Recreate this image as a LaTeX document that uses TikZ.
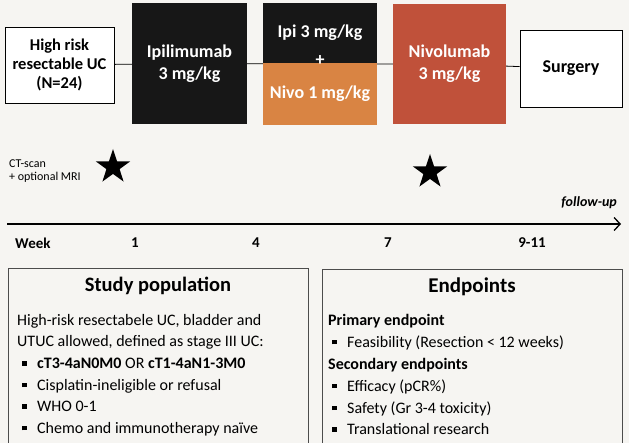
\documentclass[tikz,border=0pt]{standalone}
\usepackage{fontspec}
\setmainfont{Carlito}
\usetikzlibrary{shapes.geometric,arrows.meta}
\definecolor{paper}{HTML}{F6F5F2}
\definecolor{ipiblack}{HTML}{171717}
\definecolor{nivoorange}{HTML}{D98443}
\definecolor{nivored}{HTML}{C0513A}
\newcommand{\bul}{\makebox[15pt][l]{\raisebox{3pt}{\rule{4.5pt}{4.5pt}}}}
\begin{document}
\begin{tikzpicture}[x=1pt,y=-1pt,
 arm/.style={rectangle,inner sep=0pt,align=center,font=\fontsize{18}{22}\selectfont\bfseries},
 dark/.style={arm,fill=ipiblack,text=white},
 light/.style={arm,fill=white,draw=black,line width=0.8pt,text=black},
 panel/.style={rectangle,draw=black!70,line width=0.6pt,fill=paper,anchor=north west,minimum width=#1,minimum height=200pt},
 wk/.style={font=\fontsize{15}{15}\selectfont\bfseries},
 scan/.style={star,star points=5,star point ratio=2.6,fill=black,inner sep=0pt,minimum size=36pt}]
\useasboundingbox (0,0) rectangle (629,443);
\clip (0,0) rectangle (629,443);
\fill[paper] (0,0) rectangle (629,443);
% treatment arms
\node[light,minimum width=109pt,minimum height=76pt,font=\fontsize{16.5}{19}\selectfont\bfseries] (hr) at (59.5,65) {High risk\\resectable UC\\(N=24)};
\node[dark,minimum width=115pt,minimum height=121pt] (ipi) at (189.5,63.5) {Ipilimumab\\3 mg/kg};
\node[dark,minimum width=114pt,minimum height=60pt] (combi1) at (320,33) {Ipi 3 mg/kg};
\node[arm,fill=nivoorange,text=white,minimum width=114pt,minimum height=62pt] (combi2) at (320,94) {Nivo 1 mg/kg};
\node[inner sep=0pt,minimum width=114pt,minimum height=122pt] (combi) at (320,64) {};
\node[text=white,font=\fontsize{18}{18}\selectfont\bfseries] (plus) at (320,61) {+};
\node[arm,fill=nivored,text=white,minimum width=113pt,minimum height=120pt] (nivo) at (449.5,64) {Nivolumab\\3 mg/kg};
\node[light,minimum width=102pt,minimum height=77pt] (surg) at (571,68.5) {Surgery};
\draw[line width=0.8pt] (hr) -- (ipi) (ipi) -- (combi) (combi) -- (nivo) (nivo) -- (surg);
% imaging
\node[align=left,anchor=west,inner sep=0pt,font=\fontsize{12}{12.5}\selectfont] (ct) at (9,171) {CT-scan\\+ optional MRI};
\node[scan] (s1) at (113,167) {};
\node[scan] (s2) at (430,172) {};
% timeline
\coordinate (t0) at (7,224);
\coordinate (t1) at (621,224);
\draw[line width=1.3pt,-{Straight Barb[length=6pt,width=13pt,line width=1.3pt]}] (t0) -- (t1);
\node[anchor=east,inner sep=0pt,font=\fontsize{14}{14}\selectfont\bfseries\itshape] (fu) at (617,203) {follow-up};
\node[wk,anchor=west,inner sep=0pt] (w0) at (15,243) {Week};
\foreach \X/\T in {135/1,256/4,388/7,532/9-11}
 \node[wk,inner sep=0pt] (w\T) at (\X,243) {\T};
% study boxes
\node[panel=300pt] (pop) at (8,268) {};
\node[font=\fontsize{20.5}{20.5}\selectfont\bfseries] (popt) at (158,286) {Study population};
\node[anchor=north west,inner sep=0pt,align=left,font=\fontsize{16}{21.6}\selectfont] (popl) at (17,314)
 {High-risk resectabele UC, bladder and\\UTUC allowed, defined as stage III UC:\\
 \hspace*{5pt}\bul\textbf{cT3-4aN0M0} OR \textbf{cT1-4aN1-3M0}\\
 \hspace*{5pt}\bul Cisplatin-ineligible or refusal\\
 \hspace*{5pt}\bul WHO 0-1\\
 \hspace*{5pt}\bul Chemo and immunotherapy naïve};
\node[panel=300pt] (end) at (322,269) {};
\node[font=\fontsize{21}{21}\selectfont\bfseries] (endt) at (472,287) {Endpoints};
\node[anchor=north west,inner sep=0pt,align=left,font=\fontsize{16}{21.9}\selectfont] (endl) at (328,314)
 {\textbf{Primary endpoint}\\
 \hspace*{4pt}\bul Feasibility (Resection < 12 weeks)\\
 \textbf{Secondary endpoints}\\
 \hspace*{4pt}\bul Efficacy (pCR\%)\\
 \hspace*{4pt}\bul Safety (Gr 3-4 toxicity)\\
 \hspace*{4pt}\bul Translational research};
\end{tikzpicture}
\end{document}
